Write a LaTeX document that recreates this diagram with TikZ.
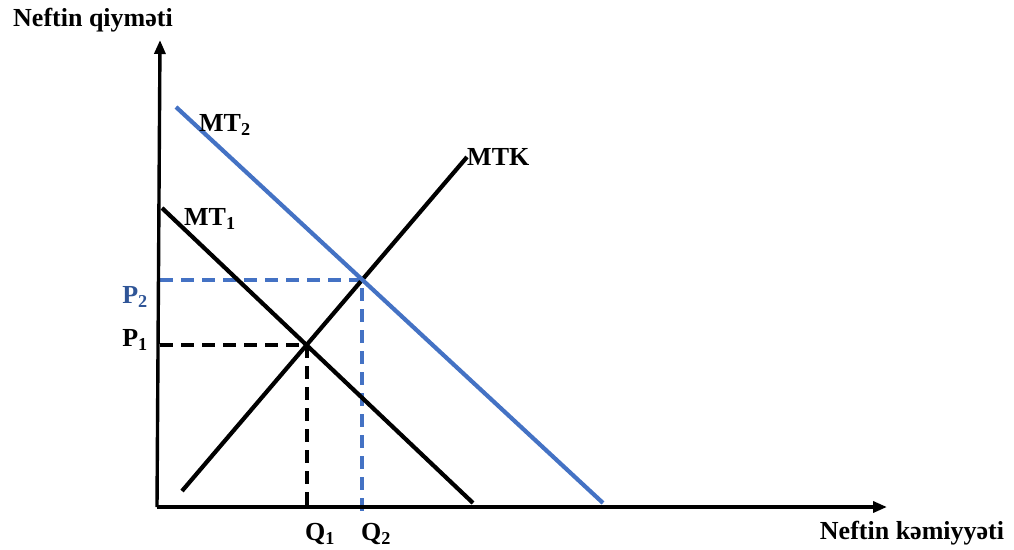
\documentclass[tikz,border=0pt]{standalone}
\usepackage{fontspec}
\setmainfont{Liberation Serif}
\usetikzlibrary{arrows.meta}
\definecolor{mtblue}{RGB}{68,114,196}
\definecolor{pblue}{RGB}{47,85,151}
\tikzset{
  axis/.style={line width=3.4pt,-{Triangle[length=14pt,width=11pt]}},
  curve/.style={line width=4.2pt},
  guide/.style={line width=3.6pt,dash pattern=on 13pt off 8pt},
  lbl/.style={font=\fontsize{26}{29}\selectfont\bfseries,inner sep=0pt},
}
\begin{document}
\begin{tikzpicture}[x=1pt,y=-1pt]
\useasboundingbox (0,0) rectangle (1014,549);
% axes
\coordinate (O) at (157,507);
\coordinate (Ytop) at (160,40);
\coordinate (Xend) at (887,507);
% curves
\coordinate (mt1a) at (162,208);
\coordinate (mt1b) at (473,503);
\coordinate (mt2a) at (176,107);
\coordinate (mt2b) at (603,503);
\coordinate (mtka) at (182,491);
\coordinate (mtkb) at (467,157);
% equilibria
\coordinate (E1) at (307,345);
\coordinate (E2) at (362,280);
\coordinate (P1a) at (160,345);
\coordinate (P2a) at (160,280);
\coordinate (Q1b) at (307,511);
\coordinate (Q2b) at (362,512);
% dashed guides
\draw[guide,black] (P1a) -- (E1) -- (Q1b);
\draw[guide,mtblue] (P2a) -- (E2) -- (Q2b);
% curves
\draw[curve,black] (mt1a) -- (mt1b);
\draw[curve,black] (mtka) -- (mtkb);
\draw[curve,mtblue] (mt2a) -- (mt2b);
% axes
\draw[axis] (O) -- (Ytop);
\draw[axis] (O) -- (Xend);
% labels
\node[lbl] (ylab) at (93,20) {Neftin qiyməti};
\node[lbl] (xlab) at (912,533) {Neftin kəmiyyəti};
\node[lbl,anchor=west] (lmt2) at (199,125) {MT\textsubscript{2}};
\node[lbl,anchor=west] (lmt1) at (184,219) {MT\textsubscript{1}};
\node[lbl,anchor=west] (lmtk) at (467,157) {MTK};
\node[lbl] (lp1) at (135,340) {P\textsubscript{1}};
\node[lbl,text=pblue] (lp2) at (135,297) {P\textsubscript{2}};
\node[lbl] (lq1) at (320,534) {Q\textsubscript{1}};
\node[lbl] (lq2) at (376,534) {Q\textsubscript{2}};
\end{tikzpicture}
\end{document}
